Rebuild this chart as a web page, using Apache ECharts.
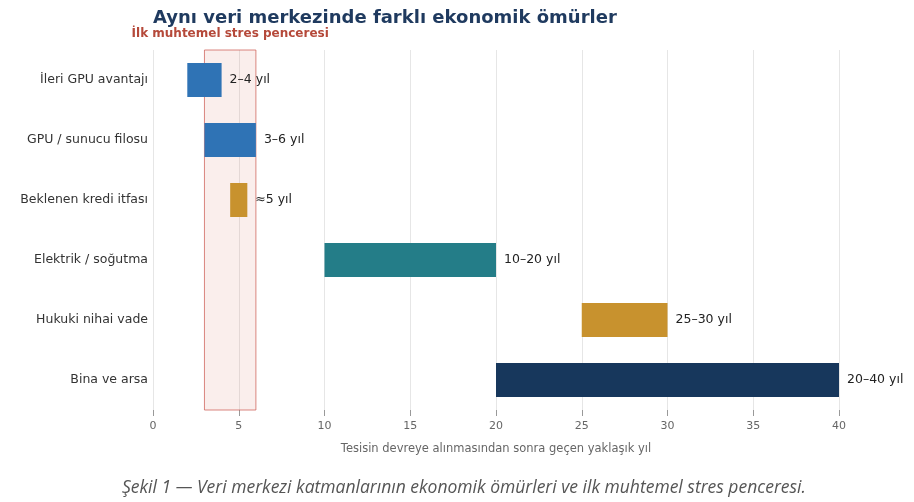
<!DOCTYPE html>
<html>
<head>
<meta charset="utf-8">
<script src="https://cdn.jsdelivr.net/npm/echarts@6/dist/echarts.min.js"></script>
<style>
  html, body { margin: 0; padding: 0; background: #fff; }
  #container { width: 914px; height: 502px; }
</style>
</head>
<body>
<div id="container"></div>
<script>
// katmanlar ve ekonomik ömür aralıkları (yıl)
var layers = ['İleri GPU avantajı', 'GPU / sunucu filosu', 'Beklenen kredi itfası', 'Elektrik / soğutma', 'Hukuki nihai vade', 'Bina ve arsa'];
var startYears = [2, 3, 4.5, 10, 25, 20];
var endYears = [4, 6, 5.5, 20, 30, 40];
var rangeLabels = ['2–4 yıl', '3–6 yıl', '≈5 yıl', '10–20 yıl', '25–30 yıl', '20–40 yıl'];
var stressWindow = [3, 6];
var xTicks = [0, 5, 10, 15, 20, 25, 30, 35, 40];

var barColors = ['#2f73b5', '#2f73b5', '#c8922e', '#247d88', '#c8922e', '#17375c'];
var font = 'DejaVu Sans';

var chart = echarts.init(document.getElementById('container'));

var lengths = startYears.map(function (s, i) { return endYears[i] - s; });

var option = {
  backgroundColor: '#fff',
  animation: false,
  title: {
    text: 'Aynı veri merkezinde farklı ekonomik ömürler',
    left: 153,
    top: 9,
    padding: 0,
    textStyle: { fontFamily: font, fontSize: 18, fontWeight: 'bold', color: '#1f3a5f' }
  },
  grid: { left: 153, right: 75, top: 50, bottom: 92 },
  xAxis: {
    type: 'value',
    min: xTicks[0],
    max: xTicks[xTicks.length - 1],
    interval: 5,
    name: 'Tesisin devreye alınmasından sonra geçen yaklaşık yıl',
    nameLocation: 'middle',
    nameGap: 33,
    nameTextStyle: { fontFamily: font, fontSize: 11.5, color: '#666' },
    axisLine: { show: false },
    axisTick: { show: true, length: 6, lineStyle: { color: '#999' } },
    axisLabel: { fontFamily: font, fontSize: 11, color: '#666', margin: 11 },
    splitLine: { show: true, lineStyle: { color: '#e6e6e6', width: 1 } }
  },
  yAxis: {
    type: 'category',
    data: layers,
    inverse: true,
    axisLine: { show: false },
    axisTick: { show: false },
    axisLabel: { fontFamily: font, fontSize: 12.5, color: '#333', margin: 5 }
  },
  series: [
    {
      name: 'base',
      type: 'bar',
      stack: 'omur',
      data: startYears,
      barWidth: 34,
      itemStyle: { color: 'transparent' },
      silent: true
    },
    {
      name: 'omur',
      type: 'bar',
      stack: 'omur',
      data: lengths,
      barWidth: 34,
      itemStyle: {
        color: function (p) { return barColors[p.dataIndex]; }
      },
      label: {
        show: true,
        position: 'right',
        distance: 8,
        fontFamily: font,
        fontSize: 12.5,
        color: '#222',
        formatter: function (p) { return rangeLabels[p.dataIndex]; }
      }
    },
    {
      name: 'stres',
      type: 'line',
      data: [],
      z: 5,
      silent: true,
      markArea: {
        silent: true,
        itemStyle: { color: 'rgba(214,120,110,0.13)', borderColor: 'rgba(205,95,85,0.75)', borderWidth: 1 },
        label: {
          show: true,
          position: 'top',
          distance: 10,
          formatter: 'İlk muhtemel stres penceresi',
          fontFamily: font,
          fontSize: 12,
          fontWeight: 'bold',
          color: '#b5493a'
        },
        data: [[{ xAxis: stressWindow[0] }, { xAxis: stressWindow[1] }]]
      }
    }
  ],
  graphic: [{
    type: 'text',
    left: 122,
    top: 479,
    style: {
      text: 'Şekil 1 — Veri merkezi katmanlarının ekonomik ömürleri ve ilk muhtemel stres penceresi.',
      font: 'italic 17.5px "Open Sans"',
      fill: '#555'
    }
  }]
};

chart.setOption(option);
</script>
</body>
</html>
